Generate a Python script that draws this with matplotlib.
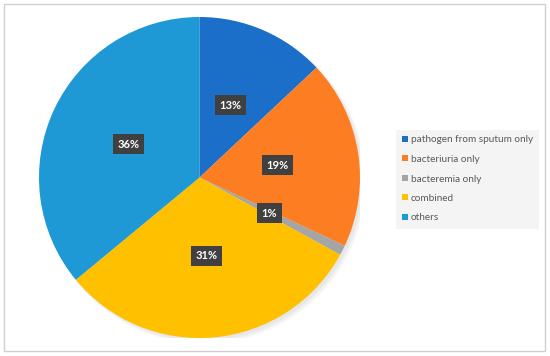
import matplotlib
matplotlib.use("Agg")
import matplotlib.pyplot as plt
from matplotlib.patches import Patch, Rectangle, Circle

categories = ["pathogen from sputum only", "bacteriuria only", "bacteremia only", "combined", "others"]
values = [13, 19, 1, 31, 36]
colors = ["#1b6fc8", "#fd7e22", "#a5a5a5", "#ffc000", "#1e99d6"]

plt.rcParams['font.family'] = ['Lato', 'DejaVu Sans']

fig = plt.figure(figsize=(5.5, 3.56), dpi=100)
fig.patch.set_facecolor("white")
# outer border
fig.add_artist(Rectangle((4/550, 5/356), 541/550, 347/356, transform=fig.transFigure,
                         fill=False, edgecolor="#d0d0d0", linewidth=1.0))

ax = fig.add_axes([39/550, 18/356, 321/550, 321/356])
ax.set_aspect("equal")

# soft shadow
for i, a in enumerate([0.03, 0.03, 0.03]):
    ax.add_patch(Circle((0.015 + 0.006*i, -0.015 - 0.006*i), 1.0 + 0.004*i,
                        facecolor="black", alpha=a, edgecolor="none", zorder=0))

wedges, texts, autotexts = ax.pie(values, colors=colors, startangle=90, counterclock=False,
                                  autopct=lambda p: f"{p:.0f}%", pctdistance=0.49,
                                  wedgeprops=dict(linewidth=0), radius=1.0)
for t in autotexts:
    t.set_color("white")
    t.set_fontsize(8)
    t.set_fontweight("bold")
    t.set_bbox(dict(boxstyle="square,pad=0.4", facecolor="#404040", edgecolor="none"))
    t.set_zorder(5)
ax.set_xlim(-1.0, 1.0)
ax.set_ylim(-1.0, 1.0)

handles = [Patch(facecolor=c, edgecolor="none") for c in colors]
leg = fig.legend(handles, categories, loc="center left", bbox_to_anchor=(396/550, 177/356),
                 frameon=True, fontsize=7.2, handlelength=0.55, handleheight=0.55,
                 handletextpad=0.35, labelspacing=1.05, borderpad=0.6, borderaxespad=0,
                 fancybox=False)
leg.get_frame().set_facecolor("#f2f2f2")
leg.get_frame().set_edgecolor("none")
for t in leg.get_texts():
    t.set_color("#595959")

fig.savefig("out.png", dpi=100)
